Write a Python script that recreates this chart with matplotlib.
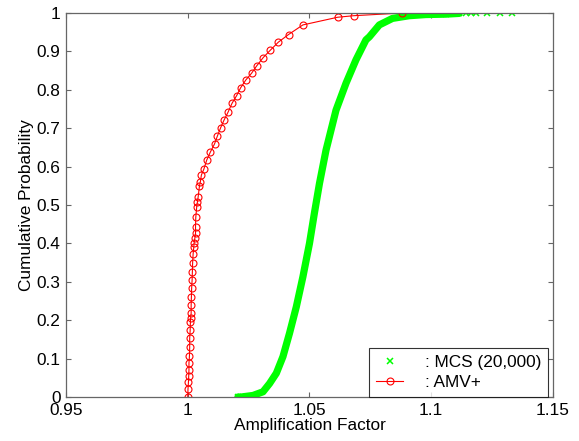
import numpy as np
import matplotlib
matplotlib.use('Agg')
import matplotlib.pyplot as plt
from matplotlib.lines import Line2D

plt.rcParams['font.family'] = ['Liberation Sans', 'DejaVu Sans']

# %% CDF data: Monte Carlo sampling (20,000 runs) vs AMV+ points
mcs_x = [1.0206, 1.0220, 1.0268, 1.0309, 1.0336, 1.0364, 1.0391, 1.0418, 1.0446,
         1.0473, 1.0500, 1.0520, 1.0541, 1.0568, 1.0609, 1.0650, 1.0691,
         1.0732, 1.0746, 1.0787, 1.0841, 1.0910, 1.0978, 1.1060, 1.1115]
mcs_p = [0.000, 0.000, 0.004, 0.0135, 0.035, 0.062, 0.105, 0.166, 0.235,
         0.313, 0.400, 0.478, 0.556, 0.643, 0.747, 0.817, 0.878,
         0.930, 0.938, 0.969, 0.986, 0.993, 0.996, 0.997, 0.999]
# isolated samples in the upper tail
mcs_tail_x = [1.1143, 1.1164, 1.1184, 1.1228, 1.1283, 1.1331]
mcs_tail_p = [1.0, 1.0, 1.0, 1.0, 1.0, 1.0]

amv_x = [1.0000, 1.0001, 1.0003, 1.0004, 1.0005, 1.0005, 1.0007, 1.0008, 1.0008,
         1.0010, 1.0011, 1.0012, 1.0014, 1.0014, 1.0015, 1.0016, 1.0018, 1.0019,
         1.0020, 1.0022, 1.0025, 1.0026, 1.0029, 1.0032, 1.0032, 1.0033, 1.0037,
         1.0040, 1.0043, 1.0048, 1.0052, 1.0056, 1.0066, 1.0078, 1.0093, 1.0110,
         1.0122, 1.0135, 1.0149, 1.0165, 1.0182, 1.0201, 1.0217, 1.0239, 1.0262,
         1.0284, 1.0310, 1.0339, 1.0372, 1.0414, 1.0473, 1.0616, 1.0682, 1.0882]
amv_p = [0.000, 0.020, 0.040, 0.055, 0.070, 0.088, 0.107, 0.129, 0.153,
         0.174, 0.196, 0.207, 0.218, 0.240, 0.261, 0.283, 0.305, 0.326,
         0.348, 0.372, 0.391, 0.400, 0.413, 0.426, 0.443, 0.468, 0.496,
         0.509, 0.522, 0.549, 0.561, 0.578, 0.593, 0.617, 0.638, 0.659,
         0.680, 0.701, 0.721, 0.741, 0.765, 0.785, 0.805, 0.826, 0.843,
         0.863, 0.884, 0.903, 0.924, 0.944, 0.969, 0.989, 0.993, 1.000]

xticks = [0.95, 1, 1.05, 1.1, 1.15]
xticklabels = ['0.95', '1', '1.05', '1.1', '1.15']
yticks = [0, 0.1, 0.2, 0.3, 0.4, 0.5, 0.6, 0.7, 0.8, 0.9, 1]
yticklabels = ['0', '0.1', '0.2', '0.3', '0.4', '0.5', '0.6', '0.7', '0.8', '0.9', '1']

fs = 12.4

# %% Plotting
fig = plt.figure(figsize=(5.79, 4.41), dpi=100)
ax = fig.add_axes([0.114, 0.0998, 0.841, 0.8707])

green = '#00ff00'
red = '#ff0000'
# dense MCS samples merge into a solid band, only the ends show single crosses
ax.plot(mcs_x, mcs_p, color=green, lw=5.2, solid_capstyle='round', solid_joinstyle='round')
ax.plot(mcs_x[:2] + mcs_x[-2:] + mcs_tail_x, mcs_p[:2] + mcs_p[-2:] + mcs_tail_p,
        ls='none', marker='x', ms=4.5, mew=1.1, color=green)
ax.plot(amv_x, amv_p, color=red, lw=0.8, marker='o', ms=5, mfc='none', mec=red, mew=0.8)

ax.set_xlim(0.95, 1.15)
ax.set_ylim(0, 1)
ax.set_xticks(xticks)
ax.set_xticklabels(xticklabels)
ax.set_yticks(yticks)
ax.set_yticklabels(yticklabels)
ax.tick_params(direction='in', length=3.6, width=0.8, color='#666666', labelsize=fs,
               top=True, right=True, pad=4)
for s in ax.spines.values():
    s.set_color('#666666')
    s.set_linewidth(0.9)

ax.set_xlabel('Amplification Factor', fontsize=fs, labelpad=0)
ax.set_ylabel('Cumulative Probability', fontsize=fs, labelpad=2)

handles = [Line2D([], [], ls='none', marker='x', ms=4, mew=1.1, color=green),
           Line2D([], [], color=red, lw=0.8, marker='o', ms=5, mfc='none', mec=red, mew=0.8)]
leg = ax.legend(handles, [': MCS (20,000)', ': AMV+'], loc='lower right', fontsize=fs,
                frameon=True, fancybox=False, edgecolor='black', borderaxespad=0.0,
                bbox_to_anchor=(0.99, 0.0), handlelength=1.6, handletextpad=1.25,
                labelspacing=0.3, borderpad=0.4)
leg.get_frame().set_linewidth(0.8)

fig.savefig('out.png', dpi=100)
